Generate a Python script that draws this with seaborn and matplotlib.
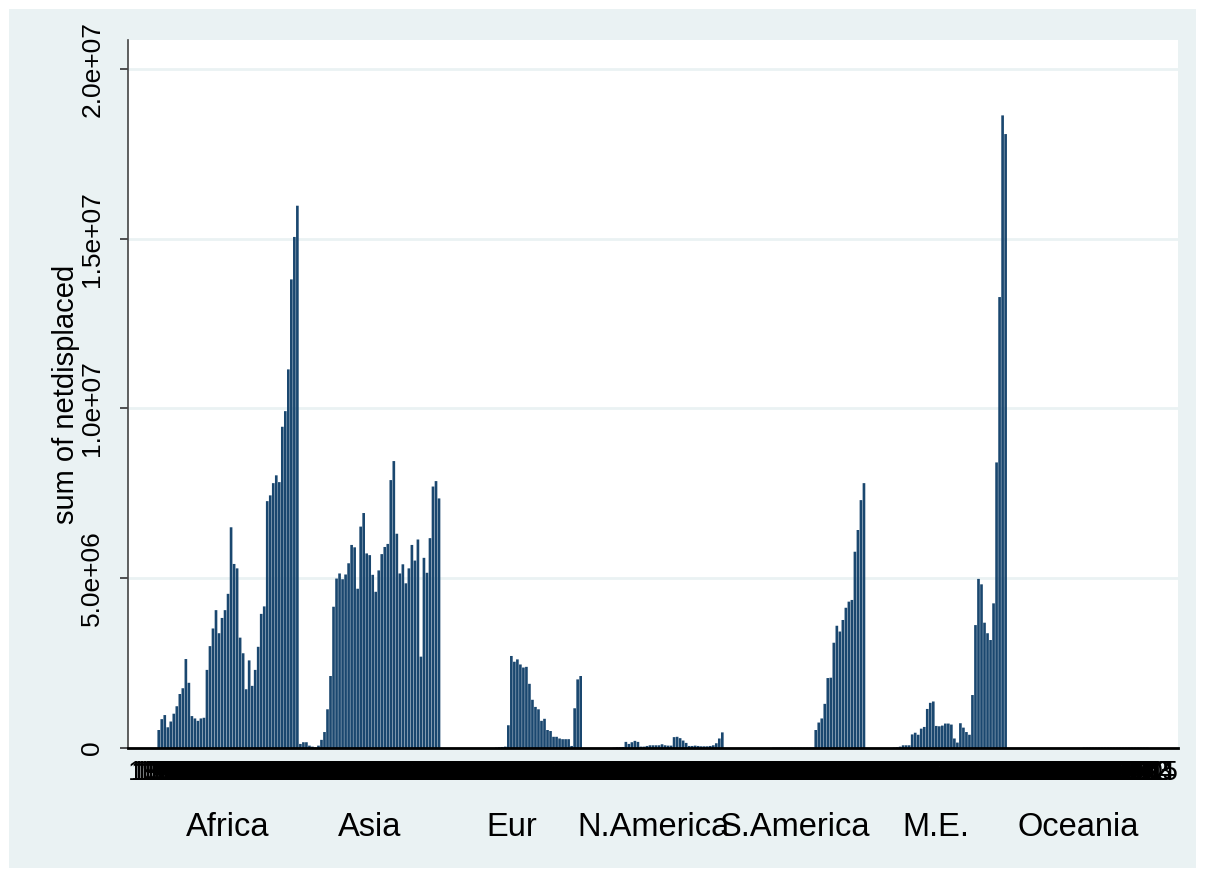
import numpy as np
import pandas as pd
import matplotlib
matplotlib.use("Agg")
import matplotlib.pyplot as plt
import matplotlib.transforms as mtransforms
from matplotlib.patches import Rectangle
import seaborn as sns

# ---- data (values in millions of people) ----
regions = ["Africa", "Asia", "Eur", "N.America", "S.America", "M.E.", "Oceania"]
years = list(range(1969, 2016))  # 47 years per region

africa = [0.53, 0.85, 0.97, 0.61, 0.78, 1.01, 1.23, 1.59, 1.76, 2.62, 1.92, 0.94,
          0.87, 0.80, 0.87, 0.89, 2.30, 3.00, 3.52, 4.06, 3.38, 3.83, 4.06, 4.54,
          6.50, 5.42, 5.29, 3.25, 2.79, 1.73, 2.58, 1.83, 2.30, 2.98, 3.95, 4.17,
          7.27, 7.44, 7.80, 8.03, 7.83, 9.46, 9.92, 11.15, 13.80, 15.05, 15.97]
asia = [0.12, 0.17, 0.17, 0.07, 0.04, 0.02, 0.07, 0.24, 0.47, 1.14, 2.12, 4.16,
        4.99, 5.14, 4.97, 5.11, 5.44, 5.98, 5.91, 4.69, 6.52, 6.92, 5.73, 5.68,
        5.10, 4.60, 5.23, 5.71, 5.92, 6.01, 7.89, 8.45, 6.31, 5.14, 5.41, 4.85,
        5.29, 5.98, 5.52, 6.14, 2.69, 5.60, 5.16, 6.18, 7.70, 7.86, 7.35]
eur = [0.0, 0.0, 0.0, 0.0, 0.0, 0.0, 0.0, 0.0, 0.0, 0.0, 0.0, 0.0,
       0.0, 0.0, 0.0, 0.0, 0.0, 0.0, 0.01, 0.02, 0.03, 0.04, 0.67, 2.71,
       2.54, 2.61, 2.46, 2.37, 2.39, 1.89, 1.42, 1.21, 1.14, 0.80, 0.86, 0.53,
       0.50, 0.33, 0.33, 0.28, 0.26, 0.26, 0.26, 0.06, 1.17, 2.02, 2.12]
n_america = [0.0, 0.0, 0.0, 0.0, 0.0, 0.0, 0.0, 0.0, 0.0, 0.0, 0.01, 0.02,
             0.02, 0.03, 0.18, 0.12, 0.17, 0.21, 0.18, 0.04, 0.04, 0.06, 0.08, 0.08,
             0.08, 0.08, 0.11, 0.08, 0.07, 0.07, 0.32, 0.33, 0.29, 0.22, 0.15, 0.06,
             0.06, 0.07, 0.06, 0.05, 0.05, 0.05, 0.06, 0.08, 0.14, 0.28, 0.46]
s_america = [0.0, 0.0, 0.0, 0.0, 0.0, 0.0, 0.0, 0.0, 0.0, 0.0, 0.0, 0.0,
             0.0, 0.0, 0.0, 0.0, 0.01, 0.01, 0.01, 0.01, 0.01, 0.01, 0.01, 0.01,
             0.01, 0.01, 0.01, 0.01, 0.01, 0.01, 0.53, 0.75, 0.87, 1.30, 2.06, 2.07,
             3.10, 3.60, 3.43, 3.77, 4.13, 4.31, 4.36, 5.78, 6.42, 7.30, 7.80]
middle_east = [0.0, 0.0, 0.0, 0.0, 0.0, 0.0, 0.0, 0.0, 0.0, 0.01, 0.02, 0.04,
               0.08, 0.08, 0.08, 0.40, 0.45, 0.39, 0.57, 0.62, 1.15, 1.33, 1.37, 0.65,
               0.64, 0.66, 0.72, 0.72, 0.69, 0.28, 0.16, 0.73, 0.60, 0.47, 0.39, 1.56,
               3.62, 4.98, 4.82, 3.69, 3.38, 3.18, 4.26, 8.41, 13.28, 18.63, 18.08]
oceania = [0.0] * 25 + [0.01] * 22

series = [africa, asia, eur, n_america, s_america, middle_east, oceania]

rows = []
for reg, vals in zip(regions, series):
    for yr, v in zip(years, vals):
        rows.append({"region": reg, "year": yr, "slot": f"{reg}|{yr}",
                     "netdisplaced": v * 1e6})
df = pd.DataFrame(rows)
slots = list(df["slot"])

# ---- figure ----
W, H, DPI = 1206, 876, 100
sns.set_style("white")
plt.rcParams["font.family"] = ["Liberation Sans", "DejaVu Sans"]
plt.rcParams["text.color"] = "black"
plt.rcParams["axes.labelcolor"] = "black"
plt.rcParams["xtick.color"] = "black"
plt.rcParams["ytick.color"] = "black"

fig = plt.figure(figsize=(W / DPI, H / DPI), dpi=DPI, facecolor="white")
bg = "#EAF2F3"
fig.patches.append(Rectangle((9 / W, 8 / H), (1196 - 9) / W, (868 - 9) / H,
                             transform=fig.transFigure, facecolor=bg,
                             edgecolor="none", zorder=-10))

ax = fig.add_axes([128 / W, 1 - 748 / H, (1178 - 128) / W, (748 - 40) / H])
ax.set_facecolor("white")

sns.barplot(data=df, x="slot", y="netdisplaced", order=slots, color="#1a476f",
            saturation=1, width=0.88, errorbar=None, ax=ax, linewidth=0)
for p in ax.patches:
    p.set_snap(False)

n = len(slots)
margin = 9.7
ax.set_xlim(-0.5 - margin, n - 0.5 + margin)
ax.set_ylim(0, 2.085e7)

# y axis
yt = [0, 5e6, 1e7, 1.5e7, 2e7]
ax.set_yticks(yt)
ax.set_yticklabels(["0", "5.0e+06", "1.0e+07", "1.5e+07", "2.0e+07"],
                   rotation=90, va="center", fontsize=19)
ax.tick_params(axis="y", direction="out", length=6, width=1.2, pad=11,
               left=True, color="#333333", labelcolor="black")
ax.set_ylabel("sum of netdisplaced", fontsize=21, color="black")
ax.yaxis.label.set_va("center")
ax.yaxis.set_label_coords(-0.059, 0.5)

ax.yaxis.grid(True, color=bg, linewidth=2)
ax.xaxis.grid(False)
ax.set_axisbelow(True)

# x axis: year labels under every bar (overlapping, as in the original)
ax.set_xticks(range(n))
ax.set_xticklabels([str(y) for y in df["year"]], fontsize=20, color="black")
ax.tick_params(axis="x", length=0, pad=8.5)
ax.set_xlabel("")

# region labels
trans = mtransforms.blended_transform_factory(ax.transData, ax.transAxes)
nyr = len(years)
for k, reg in enumerate(regions):
    cx = k * nyr + (nyr - 1) / 2
    ax.text(cx, -0.1243, reg, transform=trans, ha="center", va="baseline",
            fontsize=23.5, color="black")

for s in ["top", "right"]:
    ax.spines[s].set_visible(False)
ax.spines["left"].set_color("#444444")
ax.spines["left"].set_linewidth(1.2)
ax.spines["bottom"].set_color("black")
ax.spines["bottom"].set_linewidth(2)

fig.savefig("out.png", dpi=DPI, facecolor="white")
